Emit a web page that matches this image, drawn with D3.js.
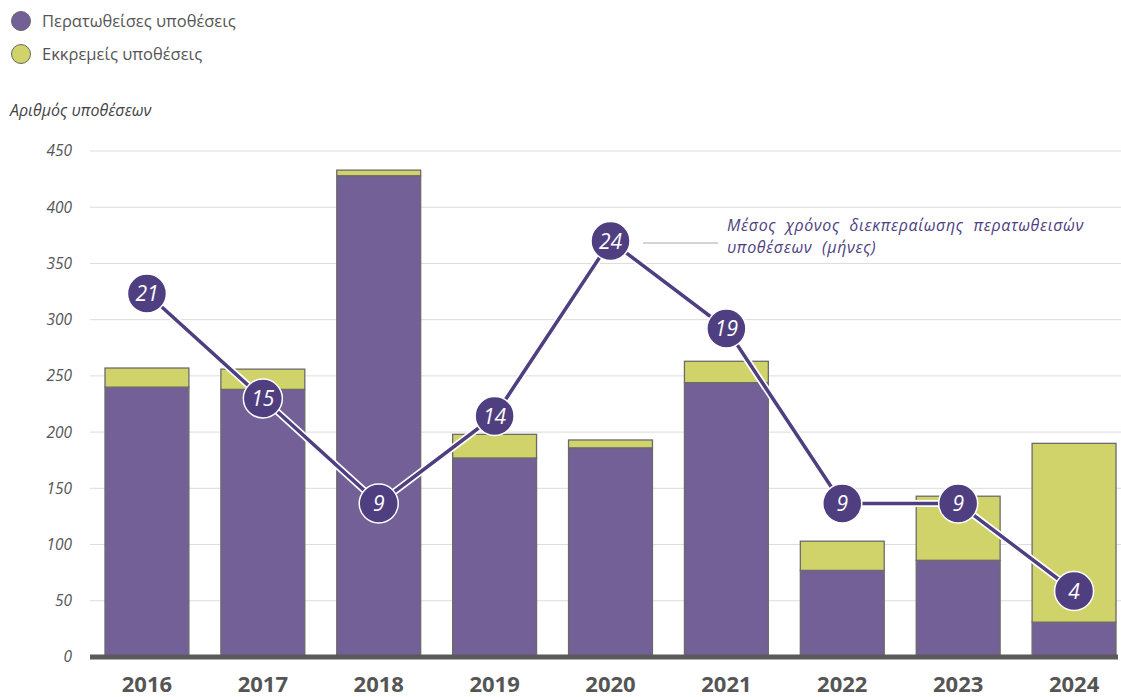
<!DOCTYPE html>
<html>
<head>
<meta charset="utf-8">
<script src="https://cdn.jsdelivr.net/npm/d3@7"></script>
<style>
  body { margin: 0; background: #fff; }
  text { font-family: "Open Sans", "Noto Sans", sans-serif; }
</style>
</head>
<body>
<div class="chart"></div>
<script>
// data
const years = ["2016", "2017", "2018", "2019", "2020", "2021", "2022", "2023", "2024"];
const closedCases = [240, 238, 428, 177, 186, 244, 77, 86, 31];
const pendingCases = [17, 18, 5, 21, 7, 19, 26, 57, 159];
const avgMonths = [21, 15, 9, 14, 24, 19, 9, 9, 4];
const yTicks = [0, 50, 100, 150, 200, 250, 300, 350, 400, 450];

const purple = "#736096", yellow = "#d0d36a", dark = "#4f3f80";

const svg = d3.select(".chart").append("svg")
  .attr("width", 1121)
  .attr("height", 697);

const x = d3.scaleBand().domain(years).range([89, 1132]).paddingInner(0.276).paddingOuter(0.138);
const y = d3.scaleLinear().domain([0, 450]).range([657, 151]);
const yLine = d3.scaleLinear().domain([0, 24]).range([661, 241]);

// grid
svg.append("g").selectAll("line").data(yTicks.slice(1)).enter().append("line")
  .attr("x1", 90).attr("x2", 1121)
  .attr("y1", d => y(d)).attr("y2", d => y(d))
  .attr("stroke", "#dcdcdc").attr("stroke-width", 1);

// y axis labels
const yAxis = svg.append("g").attr("transform", "translate(72,0)")
  .call(d3.axisLeft(y).tickValues(yTicks).tickSize(0).tickPadding(0));
yAxis.select(".domain").remove();
yAxis.selectAll("text")
  .attr("font-size", 15.5).attr("font-style", "italic").attr("fill", "#555")
  .style("font-family", "'Open Sans', sans-serif");

svg.append("text").attr("x", 10).attr("y", 116)
  .attr("font-size", 16).attr("font-style", "italic").attr("fill", "#444")
  .text("Αριθμός υποθέσεων");

// stacked bars
const rows = years.map((yr, i) => ({ year: yr, closed: closedCases[i], pending: pendingCases[i] }));
const stack = d3.stack().keys(["closed", "pending"])(rows);
const colors = { closed: purple, pending: yellow };

svg.append("g").selectAll("g").data(stack).enter().append("g")
  .attr("fill", d => colors[d.key])
  .selectAll("rect").data(d => d).enter().append("rect")
  .attr("x", d => x(d.data.year))
  .attr("width", x.bandwidth())
  .attr("y", d => y(d[1]))
  .attr("height", d => y(d[0]) - y(d[1]))
  .attr("stroke", "#6b6b6b").attr("stroke-width", 1.3);

// baseline
svg.append("line").attr("x1", 90).attr("x2", 1118).attr("y1", 657).attr("y2", 657)
  .attr("stroke", "#5a5a5a").attr("stroke-width", 5);

// x labels
const xAxis = svg.append("g").attr("transform", "translate(0,692)")
  .call(d3.axisBottom(x).tickSize(0).tickPadding(0));
xAxis.select(".domain").remove();
xAxis.selectAll("text")
  .attr("dy", 0)
  .attr("font-size", 22).attr("font-weight", "bold").attr("fill", "#555")
  .style("font-family", "'Open Sans', sans-serif");

// line with white casing
const pts = years.map((yr, i) => [x(yr) + x.bandwidth() / 2, yLine(avgMonths[i])]);
const line = d3.line();
svg.append("path").attr("d", line(pts)).attr("fill", "none")
  .attr("stroke", "#fff").attr("stroke-width", 7);
svg.append("path").attr("d", line(pts)).attr("fill", "none")
  .attr("stroke", dark).attr("stroke-width", 3.5);

const dots = svg.append("g").selectAll("g").data(pts).enter().append("g")
  .attr("transform", d => `translate(${d[0]},${d[1]})`);
dots.append("circle").attr("r", 19.5).attr("fill", dark)
  .attr("stroke", "#fff").attr("stroke-width", 1.5);
dots.append("text").attr("text-anchor", "middle").attr("dy", "0.36em")
  .attr("font-size", 21).attr("font-style", "italic").attr("fill", "#fff")
  .text((d, i) => avgMonths[i]);

// annotation
svg.append("line").attr("x1", 643).attr("x2", 718).attr("y1", 243).attr("y2", 243)
  .attr("stroke", "#aaa").attr("stroke-width", 1);
const note = svg.append("text").attr("x", 727).attr("y", 231)
  .attr("font-size", 16).attr("font-style", "italic").attr("fill", dark)
  .attr("word-spacing", 5).attr("letter-spacing", 0.6);
note.append("tspan").attr("x", 727).text("Μέσος χρόνος διεκπεραίωσης περατωθεισών");
note.append("tspan").attr("x", 727).attr("dy", 22).text("υποθέσεων (μήνες)");

// legend
const legend = svg.append("g").selectAll("g")
  .data([["Περατωθείσες υποθέσεις", purple], ["Εκκρεμείς υποθέσεις", yellow]])
  .enter().append("g")
  .attr("transform", (d, i) => `translate(21,${21 + i * 33})`);
legend.append("circle").attr("r", 9.5).attr("fill", d => d[1])
  .attr("stroke", "#666").attr("stroke-width", 1);
legend.append("text").attr("x", 21).attr("dy", "0.35em")
  .attr("font-size", 16.5).attr("fill", "#555").text(d => d[0]);
</script>
</body>
</html>
